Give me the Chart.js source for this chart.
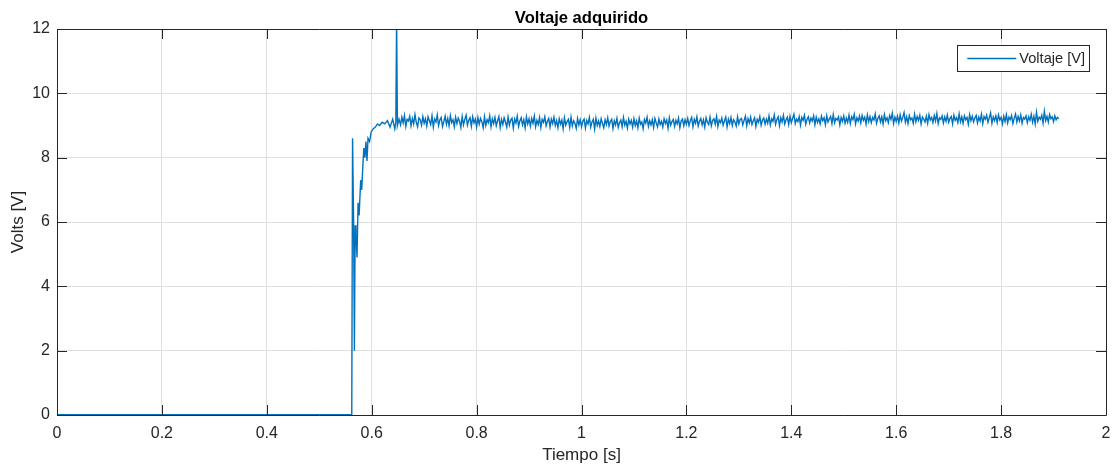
<!DOCTYPE html>
<html lang="es">
<head>
    <meta charset="UTF-8">
    <title>Voltaje adquirido</title>
    <script src="https://cdn.jsdelivr.net/npm/chart.js"></script>
    <style>
        html, body { margin: 0; padding: 0; background: #fff; }
        #wrap { width: 1112px; height: 466px; }
    </style>
</head>
<body>
    <div id="wrap"><canvas id="voltChart" width="1112" height="466"></canvas></div>

    <script>
        // ejes
        const xTicks = [0, 0.2, 0.4, 0.6, 0.8, 1, 1.2, 1.4, 1.6, 1.8, 2];
        const yTicks = [0, 2, 4, 6, 8, 10, 12];

        // tramo en reposo (0 V)
        const restTimes = [0, 0.2, 0.4, 0.562];
        const restVolts = [0.01, 0.01, 0.01, 0.01];

        // transitorio de arranque
        const rampTimes = [0.5635, 0.5655, 0.5670, 0.5685, 0.5700, 0.5720, 0.5740, 0.5760, 0.5790, 0.5810,
                           0.5830, 0.5850, 0.5870, 0.5890, 0.5910, 0.5930, 0.5960, 0.5990, 0.6030, 0.6070,
                           0.6110, 0.6150, 0.6200, 0.6250, 0.6300, 0.6350, 0.6400, 0.6440, 0.6460, 0.6475,
                           0.6490, 0.6520];
        const rampVolts = [8.6, 6.0, 2.0, 5.9, 5.6, 4.9, 6.6, 6.2, 7.3, 7.0,
                           7.7, 8.3, 8.0, 8.5, 7.9, 8.6, 8.5, 8.8, 8.9, 8.95,
                           9.05, 9.0, 9.1, 9.05, 9.15, 8.95, 9.2, 8.9, 9.1, 12.3,
                           9.0, 9.2];

        // régimen permanente, muestras cada 2.5 ms desde 0.655 s
        const steadyT0 = 0.655;
        const steadyDt = 0.0025;
        const steadyVolts = [
            9.02, 9.26, 9.08, 9.31, 8.97, 9.19, 9.14, 9.29, 8.99, 9.22, 9.05, 9.34, 9.10, 8.96, 9.24, 9.18, 9.01, 9.28, 9.07, 9.21,
            8.98, 9.27, 9.15, 9.03, 9.30, 8.95, 9.20, 9.11, 9.33, 9.00, 9.17, 9.25, 8.97, 9.12, 9.29, 9.04, 9.22, 8.99, 9.31, 9.09,
            9.18, 8.96, 9.26, 9.06, 9.23, 9.13, 8.94, 9.28, 9.02, 9.19, 9.32, 9.01, 9.16, 9.24, 8.98, 9.27, 9.08, 9.20, 8.95, 9.25,
            9.04, 9.22, 9.12, 8.93, 9.27, 9.00, 9.18, 9.09, 9.30, 8.96, 9.21, 9.06, 9.25, 8.99, 9.15, 9.28, 8.94, 9.19, 9.03, 9.24,
            9.11, 8.95, 9.26, 9.01, 9.17, 9.23, 8.92, 9.20, 9.08, 9.29, 8.97, 9.14, 9.24, 9.02, 9.18, 8.93, 9.27, 9.05, 9.21, 8.98,
            9.22, 9.07, 9.29, 8.96, 9.16, 9.03, 9.25, 8.94, 9.19, 9.10, 9.27, 8.99, 9.13, 9.22, 8.95, 9.20, 9.06, 9.26, 9.00, 9.15,
            8.93, 9.21, 9.04, 9.17, 8.90, 9.24, 9.01, 9.12, 9.19, 8.94, 9.26, 8.98, 9.15, 9.07, 8.91, 9.22, 9.02, 9.18, 8.96, 9.13,
            9.20, 8.92, 9.16, 9.05, 9.25, 8.95, 9.11, 9.19, 8.89, 9.23, 9.00, 9.14, 8.97, 9.21, 9.06, 8.93, 9.18, 9.03, 9.24, 8.98,
            9.12, 9.19, 8.91, 9.15, 9.02, 9.22, 8.94, 9.09, 9.17, 8.96, 9.25, 9.01, 9.13, 8.92, 9.20, 9.05, 9.16, 8.95, 9.21, 9.00,
            9.14, 8.93, 9.23, 9.04, 9.11, 8.90, 9.19, 9.07, 9.26, 8.97, 9.15, 9.02, 9.18, 8.94, 9.22, 9.08, 8.96, 9.20, 9.03, 9.13,
            8.95, 9.21, 9.06, 9.17, 8.92, 9.24, 9.01, 9.12, 9.19, 8.97, 9.16, 9.05, 9.23, 8.93, 9.14, 9.20, 8.99, 9.18, 9.04, 9.22,
            9.00, 9.15, 9.25, 8.96, 9.19, 9.07, 9.27, 8.98, 9.13, 9.22, 9.02, 9.18, 8.95, 9.24, 9.10, 9.03, 9.26, 8.99, 9.16, 9.21,
            9.04, 9.28, 8.97, 9.17, 9.09, 9.23, 9.01, 9.14, 9.26, 8.96, 9.20, 9.06, 9.25, 9.00, 9.18, 9.11, 8.98, 9.27, 9.05, 9.19,
            9.22, 9.02, 9.16, 9.29, 8.99, 9.21, 9.08, 9.26, 9.03, 9.15, 9.24, 8.97, 9.19, 9.10, 9.28, 9.01, 9.17, 9.23, 9.04, 9.20,
            9.07, 9.30, 9.02, 9.21, 9.13, 9.33, 9.04, 9.19, 9.27, 9.00, 9.24, 9.11, 9.31, 9.05, 9.18, 9.26, 9.03, 9.29, 9.09, 9.22,
            9.35, 9.06, 9.20, 9.12, 9.28, 9.01, 9.25, 9.16, 9.32, 9.04, 9.19, 9.27, 9.08, 9.23, 9.14, 9.30, 9.02, 9.26, 9.10, 9.21,
            9.05, 9.29, 9.15, 9.24, 9.03, 9.31, 9.11, 9.20, 9.28, 9.06, 9.34, 9.09, 9.22, 9.17, 9.27, 9.02, 9.25, 9.13, 9.30, 9.07,
            9.23, 9.10, 9.32, 9.06, 9.27, 9.18, 9.35, 9.05, 9.24, 9.14, 9.29, 9.08, 9.31, 9.16, 9.26, 9.04, 9.33, 9.12, 9.28, 9.09,
            9.25, 9.17, 9.36, 9.07, 9.22, 9.30, 9.11, 9.27, 9.05, 9.34, 9.15, 9.24, 9.09, 9.31, 9.19, 9.38, 9.06, 9.26, 9.13, 9.29,
            9.08, 9.33, 9.14, 9.25, 9.40, 9.10, 9.27, 9.06, 9.31, 9.18, 9.23, 9.07, 9.35, 9.12, 9.28, 9.16, 9.32, 9.05, 9.26, 9.20,
            9.11, 9.29, 9.07, 9.34, 9.17, 9.25, 9.09, 9.31, 9.14, 9.37, 9.06, 9.24, 9.19, 9.30, 9.08, 9.27, 9.13, 9.33, 9.10, 9.22,
            9.28, 9.05, 9.32, 9.16, 9.24, 9.09, 9.36, 9.12, 9.27, 9.07, 9.30, 9.18, 9.25, 9.04, 9.34, 9.15, 9.29, 9.11, 9.23, 9.31,
            9.08, 9.26, 9.14, 9.35, 9.06, 9.28, 9.19, 9.32, 9.10, 9.24, 9.39, 9.07, 9.27, 9.15, 9.30, 9.09, 9.33, 9.17, 9.25, 9.05,
            9.29, 9.12, 9.34, 9.08, 9.26, 9.18, 9.31, 9.06, 9.23, 9.36, 9.11, 9.28, 9.14, 9.33, 9.07, 9.25, 9.20, 9.30, 9.09, 9.27,
            9.16, 9.35, 9.10, 9.29, 9.05, 9.41, 9.13, 9.26, 9.19, 9.32, 9.08, 9.44, 9.15, 9.28, 9.11, 9.34, 9.21, 9.27, 9.12, 9.30,
            9.18, 9.25, 9.21
        ];

        const lineColor = '#0072BD';
        const axisColor = '#262626';
        const gridColor = '#dfdfdf';
        const fontFamily = '"Liberation Sans", Arial, Helvetica, sans-serif';

        const points = [];
        restTimes.forEach((t, i) => points.push({x: t, y: restVolts[i]}));
        rampTimes.forEach((t, i) => points.push({x: t, y: rampVolts[i]}));
        steadyVolts.forEach((v, i) => points.push({x: +(steadyT0 + i * steadyDt).toFixed(4), y: v}));

        // marco tipo MATLAB: caja, marcas hacia dentro, leyenda y título
        const matlabFrame = {
            id: 'matlabFrame',
            afterDatasetsDraw(chart) {
                const {ctx, chartArea: a, scales} = chart;
                const tl = 10;
                ctx.save();
                ctx.strokeStyle = axisColor;
                ctx.lineWidth = 1;
                ctx.beginPath();
                ctx.rect(Math.round(a.left) + 0.5, Math.round(a.top) + 0.5,
                         Math.round(a.right - a.left), Math.round(a.bottom - a.top));
                xTicks.forEach(v => {
                    const px = Math.round(scales.x.getPixelForValue(v)) + 0.5;
                    ctx.moveTo(px, a.bottom); ctx.lineTo(px, a.bottom - tl);
                    ctx.moveTo(px, a.top); ctx.lineTo(px, a.top + tl);
                });
                yTicks.forEach(v => {
                    const py = Math.round(scales.y.getPixelForValue(v)) + 0.5;
                    ctx.moveTo(a.left, py); ctx.lineTo(a.left + tl, py);
                    ctx.moveTo(a.right, py); ctx.lineTo(a.right - tl, py);
                });
                ctx.stroke();

                // leyenda
                const label = chart.data.datasets[0].label;
                ctx.font = '14.6px ' + fontFamily;
                const tw = ctx.measureText(label).width;
                const bw = 62 + tw + 4, bh = 26;
                const bx = a.right - 17 - bw, by = a.top + 16;
                ctx.fillStyle = '#fff';
                ctx.fillRect(bx, by, bw, bh);
                ctx.strokeStyle = axisColor;
                ctx.strokeRect(Math.round(bx) + 0.5, Math.round(by) + 0.5, Math.round(bw), bh);
                ctx.strokeStyle = lineColor;
                ctx.lineWidth = 1.4;
                ctx.beginPath();
                ctx.moveTo(bx + 10, by + 13.5); ctx.lineTo(bx + 59, by + 13.5);
                ctx.stroke();
                ctx.fillStyle = axisColor;
                ctx.textBaseline = 'middle';
                ctx.fillText(label, bx + 62, by + 14);

                // título
                ctx.font = 'bold 16.6px ' + fontFamily;
                ctx.textAlign = 'center';
                ctx.textBaseline = 'alphabetic';
                ctx.fillStyle = '#000';
                ctx.fillText('Voltaje adquirido', (a.left + a.right) / 2, a.top - 6);
                ctx.restore();
            }
        };

        const ctxVolt = document.getElementById('voltChart').getContext('2d');
        const voltChart = new Chart(ctxVolt, {
            type: 'line',
            data: {
                datasets: [{
                    label: 'Voltaje [V]',
                    data: points,
                    borderColor: lineColor,
                    backgroundColor: lineColor,
                    borderWidth: 1.4,
                    pointRadius: 0,
                    tension: 0,
                    fill: false
                }]
            },
            options: {
                responsive: false,
                animation: false,
                layout: { padding: { top: 29, right: 6, left: 0, bottom: 0 } },
                scales: {
                    x: {
                        type: 'linear',
                        min: 0, max: 2,
                        afterFit: s => { s.height = 51; s.paddingLeft = 0; s.paddingRight = 0; },
                        afterBuildTicks: s => { s.ticks = xTicks.map(v => ({value: v})); },
                        ticks: { color: axisColor, font: { size: 16, family: fontFamily }, padding: 9, maxRotation: 0,
                                 callback: v => String(v) },
                        grid: { color: gridColor, drawTicks: false },
                        border: { display: false },
                        title: { display: true, text: 'Tiempo [s]', color: axisColor, font: { size: 17, family: fontFamily }, padding: { top: 0, bottom: 0 } }
                    },
                    y: {
                        min: 0, max: 12,
                        afterFit: s => { s.width = 57; },
                        afterBuildTicks: s => { s.ticks = yTicks.map(v => ({value: v})); },
                        ticks: { color: axisColor, font: { size: 16, family: fontFamily }, padding: 7,
                                 callback: v => String(v) },
                        grid: { color: gridColor, drawTicks: false },
                        border: { display: false },
                        title: { display: true, text: 'Volts [V]', color: axisColor, font: { size: 17, family: fontFamily }, padding: { top: 8, bottom: 0 } }
                    }
                },
                plugins: {
                    legend: { display: false },
                    tooltip: { enabled: false }
                }
            },
            plugins: [matlabFrame]
        });
    </script>
</body>
</html>
